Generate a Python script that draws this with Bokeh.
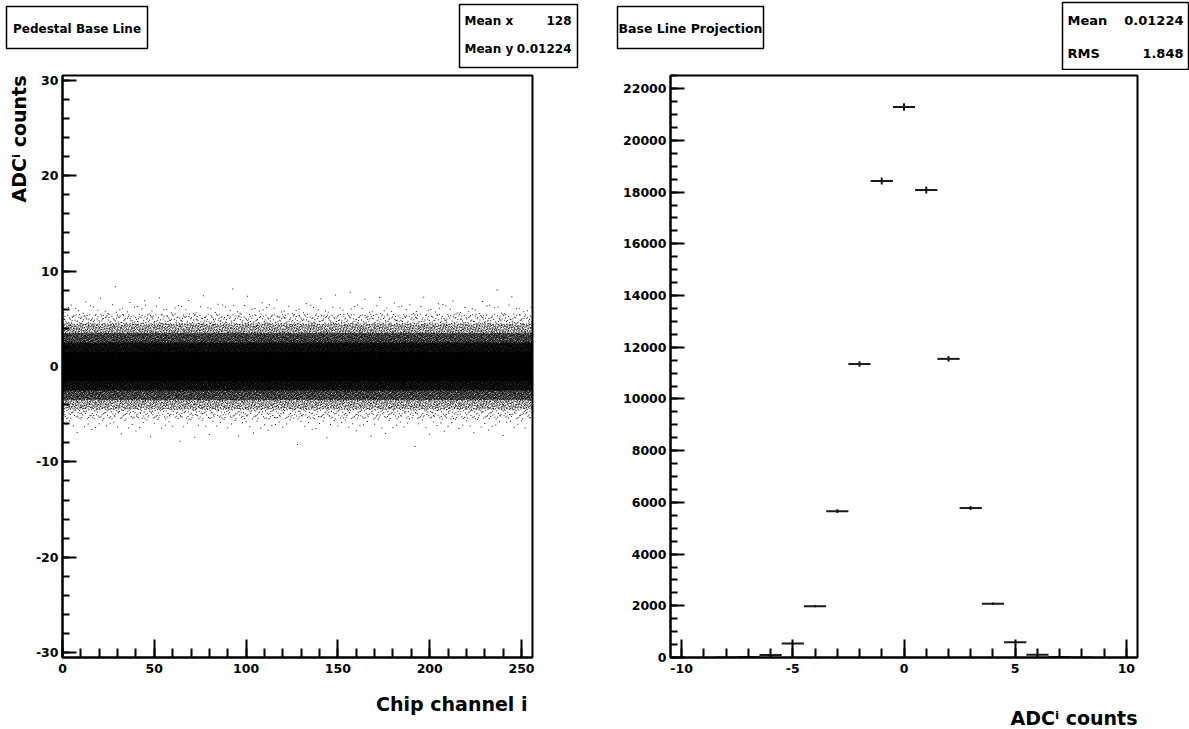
import numpy as np
from bokeh.plotting import figure
from bokeh.layouts import row, column
from bokeh.models import (Range1d, SingleIntervalTicker, Title, ColumnDataSource,
                          PrintfTickFormatter)
from bokeh.core.properties import value
from bokeh.embed import file_html
from bokeh.resources import INLINE

# ---------------- data ----------------
adc_bins = [-8, -7, -6, -5, -4, -3, -2, -1, 0, 1, 2, 3, 4, 5, 6, 7, 8]
bin_counts = [3, 20, 100, 540, 1985, 5660, 11350, 18430, 21290, 18080,
              11550, 5780, 2080, 590, 110, 22, 4]
n_channels = 256
left_title = "Pedestal Base Line"
right_title = "Base Line Projection"
stats_left_names = ["Mean x", "Mean y"]
stats_left_values = ["128", "0.01224"]
stats_right_names = ["Mean", "RMS"]
stats_right_values = ["0.01224", "1.848"]
x_label_left = "Chip channel i"
adc_label = "ADC\u2071 counts"

FONT = "DejaVu Sans"


# ---- scatter points: each histogram entry is placed inside its ADC bin and spread
# over the channels with a deterministic low-discrepancy (Halton 2,3) layout ----
def halton(idx, base):
    f = np.ones_like(idx, dtype=float)
    r = np.zeros_like(idx, dtype=float)
    i = idx.astype(np.int64).copy()
    while np.any(i > 0):
        f = f / base
        r = r + f * (i % base)
        i = i // base
    return r


xs, ys = [], []
offset = 1
for v, n in zip(adc_bins, bin_counts):
    k = np.arange(n) + offset
    xs.append(n_channels * halton(k, 2))
    ys.append(v - 0.5 + halton(k, 3))
    offset += n
scatter_src = ColumnDataSource(dict(x=np.concatenate(xs), y=np.concatenate(ys)))

counts = np.array(bin_counts, dtype=float)
centers = np.array(adc_bins, dtype=float)
err = np.sqrt(counts)
hist_src = ColumnDataSource(dict(x0=centers - 0.5, x1=centers + 0.5, xc=centers,
                                 y=counts, ylo=counts - err, yhi=counts + err))


def style(p, xint, xminor, yint, yminor):
    p.xgrid.visible = False
    p.ygrid.visible = False
    p.outline_line_color = "black"
    p.outline_line_width = 2
    p.background_fill_color = "white"
    p.border_fill_color = "white"
    p.xaxis.ticker = SingleIntervalTicker(interval=xint, num_minor_ticks=xminor)
    p.yaxis.ticker = SingleIntervalTicker(interval=yint, num_minor_ticks=yminor)
    for ax, maj, mn in ((p.xaxis, 18, 9), (p.yaxis, 14, 7)):
        ax.formatter = PrintfTickFormatter(format="%d")
        ax.major_tick_in = maj
        ax.major_tick_out = 0
        ax.minor_tick_in = mn
        ax.minor_tick_out = 0
        ax.axis_line_width = 2
        ax.major_tick_line_width = 2
        ax.minor_tick_line_width = 2
        ax.major_label_text_font = FONT
        ax.major_label_text_font_style = "bold"
        ax.major_label_text_font_size = "12.5px"
        ax.major_label_text_color = "black"
    p.xaxis.major_label_standoff = 6
    p.yaxis.major_label_standoff = 4


def axis_title(text, standoff, offset=0):
    return Title(text=text, align="right", text_font=FONT, text_font_style="bold",
                 text_font_size="19px", text_color="black", standoff=standoff,
                 offset=offset)


HEADER_H = 70
TOP = 5
FH = 582
BB = 72

# ---------------- left: scatter ----------------
BL1, FW1, BR1 = 62, 470, 63
p1 = figure(frame_width=FW1, frame_height=FH, min_border_left=BL1, min_border_right=BR1,
            min_border_top=TOP, min_border_bottom=BB, title=None,
            x_range=Range1d(0, 256), y_range=Range1d(-30.5, 30.5),
            output_backend="svg", toolbar_location=None)
style(p1, 50, 5, 10, 5)
p1.scatter("x", "y", source=scatter_src, marker="square", size=1.0,
           fill_color="black", fill_alpha=0.9, line_color=None)
p1.add_layout(axis_title(x_label_left, 31, 5), "below")
p1.add_layout(axis_title(adc_label, 6), "left")

# ---------------- right: histogram ----------------
BL2, FW2, BR2 = 75, 467, 52
p2 = figure(frame_width=FW2, frame_height=FH, min_border_left=BL2, min_border_right=BR2,
            min_border_top=TOP, min_border_bottom=BB, title=None,
            x_range=Range1d(-10.5, 10.5), y_range=Range1d(0, 22510),
            output_backend="svg", toolbar_location=None)
style(p2, 5, 5, 2000, 4)
p2.segment("x0", "y", "x1", "y", source=hist_src, line_color="#1a1a1a", line_width=2)
p2.segment("xc", "ylo", "xc", "yhi", source=hist_src, line_color="#1a1a1a", line_width=2)
p2.add_layout(axis_title(adc_label, 59), "below")


# ---------------- header strips with the title and statistics boxes ----------------
def header(width):
    h = figure(width=width, height=HEADER_H, min_border=0, title=None,
               x_range=Range1d(0, width), y_range=Range1d(HEADER_H, 0),
               x_axis_location=None, y_axis_location=None,
               output_backend="svg", toolbar_location=None)
    h.xgrid.visible = False
    h.ygrid.visible = False
    h.outline_line_color = None
    h.background_fill_color = "white"
    h.border_fill_color = "white"
    return h


def box(h, l, r, t, b):
    h.quad(left=[l], right=[r], top=[t], bottom=[b], fill_color="white",
           line_color="black", line_width=1.5)


def txt(h, x, y, s, align, size):
    h.text(x=[x], y=[y], text=[s], text_align=align, text_baseline="middle",
           text_font=value(FONT), text_font_style="bold",
           text_font_size=value(size), text_color="black")


h1 = header(BL1 + FW1 + BR1)
box(h1, 6, 147, 6, 48)
txt(h1, 76.5, 28, left_title, "center", "12px")
box(h1, 459, 577, 4, 67)
txt(h1, 464, 20, stats_left_names[0], "left", "12px")
txt(h1, 571, 20, stats_left_values[0], "right", "12px")
txt(h1, 464, 48, stats_left_names[1], "left", "12px")
txt(h1, 571, 48, stats_left_values[1], "right", "12px")

W2 = BL2 + FW2 + BR2
OFF = BL1 + FW1 + BR1
h2 = header(W2)
box(h2, 617 - OFF, 763 - OFF, 6, 48)
txt(h2, 690 - OFF, 28, right_title, "center", "12.5px")
box(h2, 1062 - OFF, 1188 - OFF, 2, 69)
txt(h2, 1067 - OFF, 20, stats_right_names[0], "left", "13px")
txt(h2, 1183 - OFF, 20, stats_right_values[0], "right", "13px")
txt(h2, 1067 - OFF, 53, stats_right_names[1], "left", "13px")
txt(h2, 1183 - OFF, 53, stats_right_values[1], "right", "13px")

layout = column(row(h1, h2, spacing=0), row(p1, p2, spacing=0), spacing=0)
open("out.html", "w").write(file_html(layout, INLINE))
